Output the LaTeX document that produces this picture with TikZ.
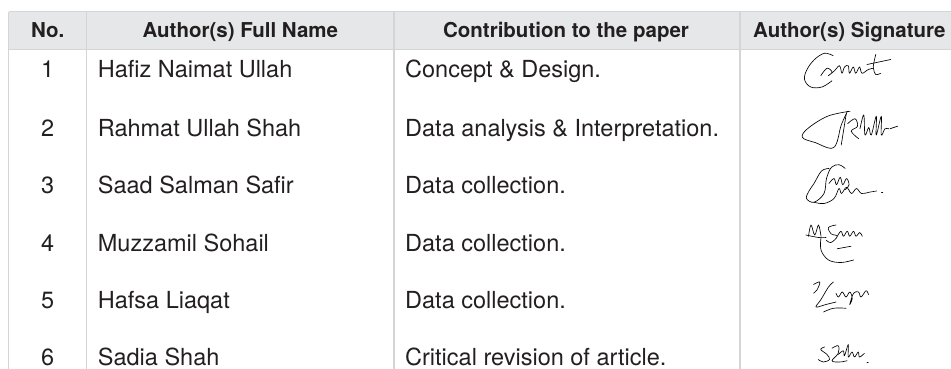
\documentclass[tikz,border=0pt]{standalone}
\usepackage{fontspec}
\setmainfont{TeX Gyre Heros}
\definecolor{hdr}{HTML}{E6E7E8}
\definecolor{rulec}{HTML}{D4D5D6}
\definecolor{ink}{HTML}{231F20}
\begin{document}
\begin{tikzpicture}[x=1pt,y=-1pt,
  hd/.style={font=\fontsize{20.5}{24}\selectfont\bfseries, text=ink, inner sep=0, anchor=base},
  cell/.style={font=\fontsize{23.5}{28}\selectfont, text=ink, inner sep=0, anchor=base west},
  num/.style={font=\fontsize{23.5}{28}\selectfont, text=ink, inner sep=0, anchor=base},
  rl/.style={rulec, line width=1.3pt},
  sig/.style={line width=0.65pt, black, line cap=round, line join=round},
  sigbox/.style={scale=1.25}]
\useasboundingbox (0,0) rectangle (951,369);
% header band and rules
\fill[hdr] (8.7,11.7) rectangle (960,49.3);
\draw[rl] (8.7,11.7) -- (960,11.7);
\draw[rl] (8.7,49.3) -- (960,49.3);
\foreach \x in {8.7,86.7,394,740} \draw[rl] (\x,11.7) -- (\x,380);
% header
\node[hd] (h1) at (47.7,37.9) {No.};
\node[hd] (h2) at (240.3,37.9) {Author(s) Full Name};
\node[hd] (h3) at (566,37.9) {Contribution to the paper};
\node[hd, anchor=base west] (h4) at (753,37.9) {Author(s) Signature};
% rows
\foreach \i/\yy/\nm/\ct in {
  1/77.7/Hafiz Naimat Ullah/Concept \& Design.,
  2/136.4/Rahmat Ullah Shah/Data analysis \& Interpretation.,
  3/193.9/Saad Salman Safir/Data collection.,
  4/251.4/Muzzamil Sohail/Data collection.,
  5/308.4/Hafsa Liaqat/Data collection.,
  6/365.4/Sadia Shah/Critical revision of article.} {
  \node[num] (n\i) at (47.7,\yy) {\i};
  \node[cell] (a\i) at (97.7,\yy) {\nm};
  \node[cell] (c\i) at (405,\yy) {\ct};
}
% signature 1
\begin{scope}[shift={(847,72)}, sigbox, shift={(-35,0)}]
\draw[sig] plot[smooth, tension=0.6] coordinates {(24,-13) (17,-15) (9,-10) (3,-2) (1,6) (6,12) (15,12) (23,7)};
\draw[sig] plot[smooth, tension=0.6] coordinates {(14,3) (19,-3) (23,0) (20,3) (25,-1) (29,-5) (31,1) (33,-4) (36,-5) (37,1) (40,-4) (42,1) (45,-4) (47,1) (52,-2) (56,-3)};
\draw[sig] plot[smooth] coordinates {(58,-14) (56,-4) (58,2) (62,1)};
\draw[sig] (51,-6) -- (70,-10);
\end{scope}
% signature 2
\begin{scope}[shift={(850,130)}, sigbox, shift={(-40,0)}]
\draw[sig] plot[smooth, tension=0.6] coordinates {(40,-15) (22,-11) (6,-1) (2,6) (12,10) (27,14) (33,-4) (38,-15)};
\draw[sig] (37,-13) -- (33,12);
\draw[sig] plot[smooth, tension=0.6] coordinates {(38,-5) (44,-9) (46,-3) (41,1) (47,7)};
\draw[sig] plot[smooth, tension=0.6] coordinates {(48,-1) (51,-12) (52,4) (55,-2) (57,4) (61,-11) (61,4) (65,-11) (65,4) (68,-1) (71,-1)};
\draw[sig] (72,-1) -- (78,-3);
\end{scope}
% signature 3
\begin{scope}[shift={(844,186)}, sigbox, shift={(-32,0)}]
\draw[sig] plot[smooth, tension=0.6] coordinates {(20,-14) (14,-12) (8,-2) (4,4) (2,10) (8,13) (16,6) (18,-6) (22,-15) (28,-17) (33,-14)};
\draw[sig] plot[smooth, tension=0.6] coordinates {(20,-2) (24,-6) (26,-1) (29,-7) (31,-1) (34,-6) (36,-1) (33,3)};
\draw[sig] plot[smooth, tension=0.6] coordinates {(8,13) (16,14) (24,10) (28,2) (30,6) (34,1) (38,6) (42,2) (46,6) (52,5) (58,4)};
\draw[sig] (62,5) -- (63,5);
\end{scope}
% signature 4
\begin{scope}[shift={(836,240)}, sigbox, shift={(-24,0)}]
\draw[sig] plot[smooth, tension=0.6] coordinates {(2,-3) (4,-12) (7,-4) (10,-12) (12,-3)};
\draw[sig] plot[smooth, tension=0.6] coordinates {(24,-12) (18,-10) (20,-5) (25,-3) (20,2) (16,0)};
\draw[sig] plot[smooth, tension=0.6] coordinates {(25,-3) (28,-7) (30,-3) (33,-7) (35,-3) (38,-7) (40,-3) (43,-6) (45,-3)};
\draw[sig] plot[smooth, tension=0.6] coordinates {(0,-4) (10,-2) (16,-2)};
\draw[sig] plot[smooth, tension=0.6] coordinates {(12,-2) (12,8) (18,16) (28,18) (38,16)};
\draw[sig] (25,7) -- (36,5);
\end{scope}
% signature 5
\begin{scope}[shift={(841,297)}, sigbox, shift={(-26,0)}]
\draw[sig] plot[smooth, tension=0.6] coordinates {(4,-10) (9,-12) (7,-6) (4,-3)};
\draw[sig] plot[smooth, tension=0.6] coordinates {(20,-12) (16,-8) (10,2) (6,8) (14,6) (22,4)};
\draw[sig] plot[smooth, tension=0.6] coordinates {(22,-3) (24,0) (27,-4) (30,0) (33,-4) (35,1) (33,6) (36,-3) (40,-4) (42,0) (46,-5) (48,-2)};
\draw[sig] plot[smooth, tension=0.6] coordinates {(12,12) (20,9) (30,9)};
\end{scope}
% signature 6
\begin{scope}[shift={(842,357)}, sigbox, shift={(-20,0)}]
\draw[sig] plot[smooth, tension=0.6] coordinates {(6,-8) (3,-6) (8,-2) (10,2) (5,4) (1,2)};
\draw[sig] plot[smooth, tension=0.6] coordinates {(12,-7) (17,-9) (17,-3) (12,3) (18,4) (24,3)};
\draw[sig] plot[smooth, tension=0.6] coordinates {(17,-2) (21,-5) (22,-1) (25,-10) (25,0) (28,-4) (30,0) (33,-4) (34,0) (38,-3)};
\draw[sig] (40,4) -- (41,4);
\end{scope}
\end{tikzpicture}
\end{document}
